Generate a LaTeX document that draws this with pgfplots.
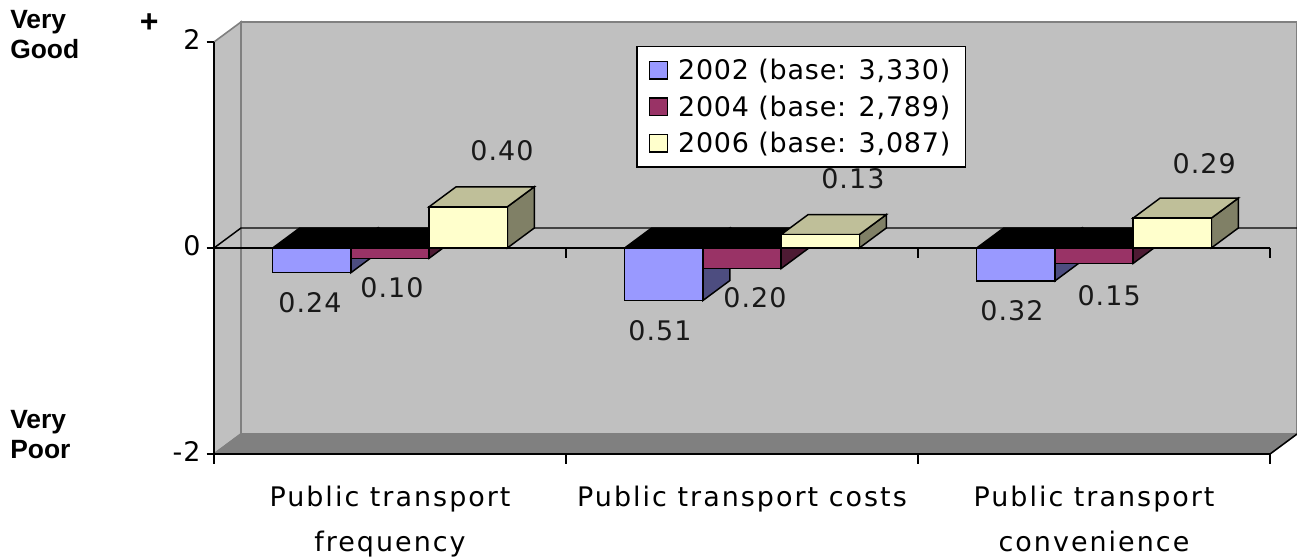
\documentclass[border=0pt]{standalone}
\usepackage{pgfplots}
\pgfplotsset{compat=1.18}
\usepackage{fontspec}
\setmainfont[LetterSpace=4]{DejaVu Sans}
\newfontfamily\xfont[LetterSpace=7.5]{DejaVu Sans}
\newfontfamily\legfont[LetterSpace=3]{DejaVu Sans}
\newfontfamily\boldlab{Liberation Sans}
\definecolor{wall}{HTML}{C0C0C0}
\definecolor{edge}{HTML}{808080}
\definecolor{floorc}{HTML}{808080}
\definecolor{blueF}{HTML}{9999FF}
\definecolor{blueS}{HTML}{4D4D80}
\definecolor{marF}{HTML}{993366}
\definecolor{marS}{HTML}{4D1A33}
\definecolor{yelF}{HTML}{FFFFCC}
\definecolor{yelS}{HTML}{808066}
\definecolor{yelT}{HTML}{BFBF99}
\newcommand{\chartfont}{\fontsize{20.2pt}{25pt}\selectfont}
\newcommand{\side}[3]{% right edge x, value, colour
  \pgfmathsetmacro{\xa}{#1+0.0767}\pgfmathsetmacro{\ya}{#2+0.1942}
  \addplot[forget plot,draw=black,line width=1.1pt,fill=#3] coordinates {(#1,0) (#1,#2) (\xa,\ya) (\xa,0.1942)} -- cycle;
}
\newcommand{\topf}[4]{% left x, right x, level, colour
  \pgfmathsetmacro{\xa}{#1+0.0767}\pgfmathsetmacro{\xb}{#2+0.0767}\pgfmathsetmacro{\ya}{#3+0.1942}
  \addplot[forget plot,draw=black,line width=1.1pt,fill=#4] coordinates {(#1,#3) (\xa,\ya) (\xb,\ya) (#2,#3)} -- cycle;
}
\pgfplotsset{swatch/.style={legend image code/.code={\draw[##1,line width=1pt] (0pt,-6.5pt) rectangle (13.5pt,6.5pt);}}}
\begin{document}
\begin{tikzpicture}
\useasboundingbox (-160.5pt,-78.75pt) rectangle (812.25pt,340.5pt);
\begin{axis}[
  scale only axis,width=792pt,height=309pt,
  xmin=0,xmax=3,ymin=-2,ymax=2,
  axis lines*=left,axis line style={-,black,line width=1.2pt},
  clip=false,axis on top,
  ytick={-2,0,2},
  xtick={0.5,1.5,2.5},
  xticklabels={{Public transport\\[9pt]frequency},{Public transport costs},{Public transport\\[9pt]convenience}},
  x tick label style={align=center,font=\xfont\chartfont,anchor=north,yshift=-15pt},
  y tick label style={font=\chartfont,xshift=-1pt,yshift=1.5pt},
  /pgf/number format/assume math mode=true,
  tick align=outside,
  major tick length=5.5pt,
  x tick style={draw=none},
  y tick style={black,line width=1.1pt},
  bar width=58.67pt,
  legend style={at={(axis cs:1.199,1.961)},anchor=north west,draw=black,line width=1.1pt,fill=white,
    font=\legfont\chartfont,inner xsep=9.25pt,inner ysep=7.25pt,row sep=6.5pt,
    /tikz/every odd column/.append style={column sep=5.25pt}},
  legend cell align=left,
]
% walls
\addplot[forget plot,draw=edge,line width=1.2pt,fill=wall] coordinates {(0.0767,2.1942) (3.0767,2.1942) (3.0767,-1.8058) (0.0767,-1.8058)} -- cycle;
\addplot[forget plot,draw=edge,line width=1.2pt,fill=wall] coordinates {(0,2) (0.0767,2.1942) (0.0767,-1.8058) (0,-2)} -- cycle;
\addplot[forget plot,draw=edge,line width=1.2pt,fill=floorc] coordinates {(0,-2) (0.0767,-1.8058) (3.0767,-1.8058) (3,-2)} -- cycle;
\addplot[forget plot,black,line width=1.1pt] coordinates {(3,-2) (3.0767,-1.8058)};
% bottom ticks
\addplot[forget plot,black,line width=1.1pt] coordinates {(0,-2) (0,-2.097)};
\addplot[forget plot,black,line width=1.1pt] coordinates {(1,-2) (1,-2.097)};
\addplot[forget plot,black,line width=1.1pt] coordinates {(2,-2) (2,-2.097)};
\addplot[forget plot,black,line width=1.1pt] coordinates {(3,-2) (3,-2.097)};
% zero plane
\addplot[forget plot,black,line width=1.1pt] coordinates {(0,0) (3,0)};
\addplot[forget plot,black,line width=1.1pt] coordinates {(0,0) (0.0767,0.1942) (3.0767,0.1942)};
\addplot[forget plot,black,line width=1.1pt] coordinates {(1,0) (1,-0.097)};
\addplot[forget plot,black,line width=1.1pt] coordinates {(2,0) (2,-0.097)};
\addplot[forget plot,black,line width=1.1pt] coordinates {(3,0) (3,-0.097)};
% group 1
\side{0.3889}{-0.24}{blueS}
\topf{0.1667}{0.3889}{0}{black}
\side{0.6111}{-0.10}{marS}
\topf{0.3889}{0.6111}{0}{black}
\side{0.8333}{0.40}{yelS}
\topf{0.6111}{0.8333}{0.40}{yelT}
% group 2
\side{1.3889}{-0.51}{blueS}
\topf{1.1667}{1.3889}{0}{black}
\side{1.6111}{-0.20}{marS}
\topf{1.3889}{1.6111}{0}{black}
\side{1.8333}{0.13}{yelS}
\topf{1.6111}{1.8333}{0.13}{yelT}
% group 3
\side{2.3889}{-0.32}{blueS}
\topf{2.1667}{2.3889}{0}{black}
\side{2.6111}{-0.15}{marS}
\topf{2.3889}{2.6111}{0}{black}
\side{2.8333}{0.29}{yelS}
\topf{2.6111}{2.8333}{0.29}{yelT}
% fronts
\addplot[ybar,bar shift=0pt,swatch,draw=black,line width=1.1pt,fill=blueF] coordinates {(0.2778,-0.24) (1.2778,-0.51) (2.2778,-0.32)};
\addlegendentry{2002 (base: 3,330)}
\addplot[ybar,bar shift=0pt,swatch,draw=black,line width=1.1pt,fill=marF] coordinates {(0.5,-0.10) (1.5,-0.20) (2.5,-0.15)};
\addlegendentry{2004 (base: 2,789)}
\addplot[ybar,bar shift=0pt,swatch,draw=black,line width=1.1pt,fill=yelF] coordinates {(0.7222,0.40) (1.7222,0.13) (2.7222,0.29)};
\addlegendentry{2006 (base: 3,087)}
% value labels
\begin{scope}[every node/.style={font=\chartfont,inner sep=0pt,text=black!90}]
\node at (axis cs:0.8182,0.945) {0.40};
\node at (axis cs:0.2727,-0.534) {0.24};
\node at (axis cs:0.5057,-0.388) {0.10};
\node at (axis cs:1.267,-0.806) {0.51};
\node at (axis cs:1.537,-0.485) {0.20};
\node at (axis cs:1.815,0.670) {0.13};
\node at (axis cs:2.267,-0.612) {0.32};
\node at (axis cs:2.543,-0.466) {0.15};
\node at (axis cs:2.813,0.815) {0.29};
\end{scope}
\end{axis}
\begin{scope}[xshift=-160.5pt,yshift=-78.75pt,every node/.style={inner sep=0pt,align=left,anchor=north west}]
\node[font=\boldlab\bfseries\fontsize{19.8pt}{22.5pt}\selectfont] at (7.5pt,411.8pt) {Very\\Good};
\node[font=\boldlab\bfseries\fontsize{19.8pt}{22.5pt}\selectfont] at (7.5pt,111.5pt) {Very\\Poor};
\node[font=\boldlab\bfseries\fontsize{24pt}{24pt}\selectfont,anchor=center] at (112pt,402pt) {+};
\end{scope}
\end{tikzpicture}
\end{document}
